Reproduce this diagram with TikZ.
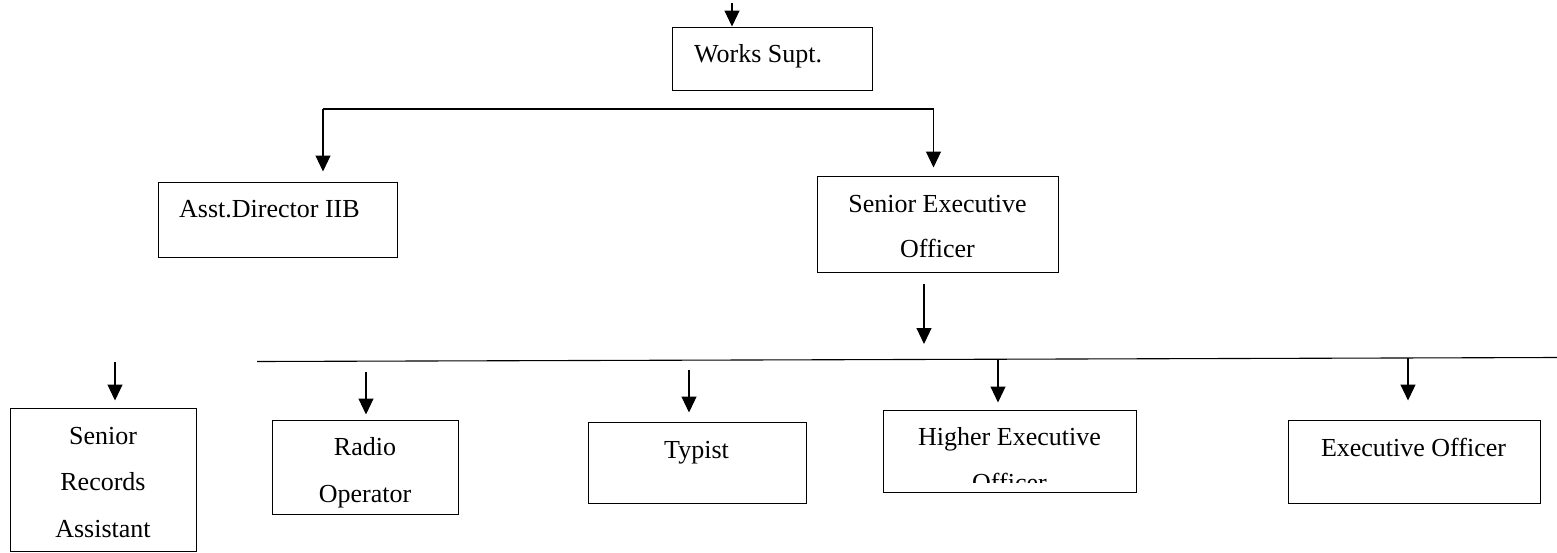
\documentclass[tikz,border=0pt]{standalone}
\usepackage{fontspec}
\setmainfont{Liberation Serif}
\usetikzlibrary{arrows.meta}
\tikzset{
  box/.style={draw, line width=1pt, rectangle, inner sep=0pt},
  lbl/.style={font=\fontsize{26}{30}\selectfont, inner sep=0pt},
  conn/.style={line width=1.1pt},
  arr/.style={line width=1.1pt, -{Triangle[width=15pt,length=16pt]}}
}
\begin{document}
\begin{tikzpicture}[x=1pt,y=-1pt]
\useasboundingbox (0,0) rectangle (1557,552);
% boxes
\node[box, minimum width=200pt, minimum height=63pt] (ws) at (772,58.5) {};
\node[box, minimum width=239pt, minimum height=75pt] (ad) at (277.5,219.5) {};
\node[box, minimum width=241pt, minimum height=96pt] (se) at (937.5,224) {};
\node[box, minimum width=186pt, minimum height=143pt] (sr) at (103,479.5) {};
\node[box, minimum width=186pt, minimum height=94pt] (ro) at (365,467) {};
\node[box, minimum width=218pt, minimum height=81pt] (ty) at (697,462.5) {};
\node[box, minimum width=253pt, minimum height=82pt] (he) at (1009.5,451) {};
\node[box, minimum width=252pt, minimum height=83pt] (eo) at (1414,461.5) {};
% texts
\node[lbl, anchor=base west] (wst) at (694,62) {Works Supt.};
\node[lbl, anchor=base west] (adt) at (179,217) {Asst.Director IIB};
\node[lbl, anchor=base] (se1) at (937.5,212) {Senior Executive};
\node[lbl, anchor=base] (se2) at (937.5,257) {Officer};
\node[lbl, anchor=base] (sr1) at (103,444) {Senior};
\node[lbl, anchor=base] (sr2) at (103,490) {Records};
\node[lbl, anchor=base] (sr3) at (103,537) {Assistant};
\node[lbl, anchor=base] (ro1) at (365,455) {Radio};
\node[lbl, anchor=base] (ro2) at (365,502) {Operator};
\node[lbl, anchor=base] (tyt) at (696.5,458) {Typist};
\node[lbl, anchor=base] (he1) at (1009.5,445) {Higher Executive};
\begin{scope}
  \clip (884,411) rectangle (1135,482);
  \node[lbl, anchor=base] (he2) at (1009.5,491) {Officer};
\end{scope}
\node[lbl, anchor=base] (eot) at (1413.5,456) {Executive Officer};
% connectors
\coordinate (top) at (732,3);
\draw[arr] (top) -- (top |- ws.north);
\coordinate (hl) at (323,109);
\coordinate (hr) at (933.5,109);
\draw[conn] (hl) -- (hr);
\draw[arr, shorten >=10pt] (hl) -- (hl |- ad.north);
\draw[arr, shorten >=8pt] (hr) -- (hr |- se.north);
\coordinate (sea) at (924,344);
\draw[arr, shorten <=11pt] (sea |- se.south) -- (sea);
\coordinate (ll) at (257,361.5);
\coordinate (lr) at (1557,357.5);
\draw[conn] (ll) -- (lr);
\coordinate (sra) at (115,362);
\draw[arr, shorten >=7pt] (sra) -- (sra |- sr.north);
\coordinate (roa) at (366,372);
\draw[arr, shorten >=5pt] (roa) -- (roa |- ro.north);
\coordinate (tya) at (689,370);
\draw[arr, shorten >=9pt] (tya) -- (tya |- ty.north);
\coordinate (hea) at (998,359.5);
\draw[arr, shorten >=7pt] (hea) -- (hea |- he.north);
\coordinate (eoa) at (1408,358);
\draw[arr, shorten >=19pt] (eoa) -- (eoa |- eo.north);
\end{tikzpicture}
\end{document}
